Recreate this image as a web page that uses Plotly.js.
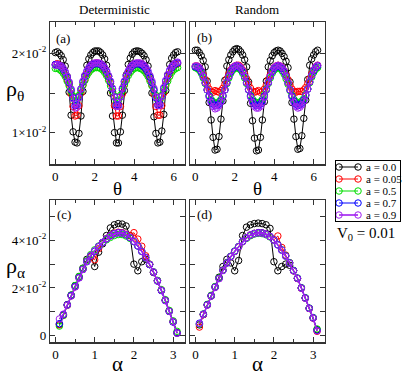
<!DOCTYPE html>
<html>
<head>
<meta charset="utf-8">
<script src="https://cdn.plot.ly/plotly-3.0.1.min.js"></script>
<style>
  html, body { margin: 0; padding: 0; background: #fff; }
  #plot { width: 415px; height: 376px; }
  #plot svg text { font-family: "Liberation Serif", "DejaVu Serif", serif !important; }
</style>
</head>
<body>
<div id="plot"></div>
<script>
// theta grid (panels a, b) and alpha grid (panels c, d)
const theta = [0.0,0.1,0.2,0.3,0.4,0.5,0.6,0.7,0.8,0.9,1.0,1.1,1.2,1.3,1.4,1.5,1.6,1.7,1.8,1.9,2.0,
  2.1,2.2,2.3,2.4,2.5,2.6,2.7,2.8,2.9,3.0,3.1,3.2,3.3,3.4,3.5,3.6,3.7,3.8,3.9,4.0,4.1,
  4.2,4.3,4.4,4.5,4.6,4.7,4.8,4.9,5.0,5.1,5.2,5.3,5.4,5.5,5.6,5.7,5.8,5.9,6.0,6.1,6.2];
const alpha = [0.1,0.2,0.3,0.4,0.5,0.6,0.7,0.8,0.9,1.0,1.1,1.2,1.3,1.4,1.5,1.6,1.7,1.8,1.9,2.0,
  2.1,2.2,2.3,2.4,2.5,2.6,2.7,2.8,2.9,3.0,3.1];

const labels = ['a = 0.0', 'a = 0.05', 'a = 0.5', 'a = 0.7', 'a = 0.9'];

// (a) deterministic, rho_theta
const detTheta00 = [0.0201,
  0.0202,0.0200,0.0197,0.0192,0.0184,0.0171,0.0151,0.0122,0.0101,0.0088,
  0.0087,0.0099,0.0121,0.0152,0.0172,0.0185,0.0193,0.0198,0.0201,0.0203,
  0.0203,
  0.0203,0.0201,0.0198,0.0193,0.0185,0.0171,0.0150,0.0121,0.0100,0.0087,
  0.0087,0.0101,0.0122,0.0153,0.0173,0.0186,0.0194,0.0199,0.0202,0.0203,
  0.0203,
  0.0202,0.0200,0.0197,0.0192,0.0184,0.0170,0.0150,0.0120,0.0099,0.0087,
  0.0088,0.0102,0.0123,0.0153,0.0173,0.0186,0.0194,0.0198,0.0201,0.0202];
const detTheta005 = [0.0186,
  0.0187,0.0185,0.0182,0.0178,0.0173,0.0167,0.0161,0.0149,0.0133,0.0121,
  0.0122,0.0134,0.0150,0.0160,0.0167,0.0174,0.0179,0.0183,0.0186,0.0187,
  0.0188,
  0.0187,0.0186,0.0183,0.0179,0.0174,0.0168,0.0162,0.0151,0.0134,0.0121,
  0.0121,0.0133,0.0149,0.0161,0.0168,0.0175,0.0180,0.0184,0.0186,0.0187,
  0.0187,
  0.0187,0.0185,0.0182,0.0178,0.0173,0.0167,0.0160,0.0149,0.0133,0.0122,
  0.0122,0.0134,0.0150,0.0161,0.0168,0.0174,0.0179,0.0183,0.0186,0.0187];
const detTheta05 = [0.0181,
  0.0181,0.0180,0.0178,0.0175,0.0171,0.0165,0.0159,0.0152,0.0146,0.0140,
  0.0141,0.0147,0.0153,0.0160,0.0166,0.0172,0.0176,0.0179,0.0181,0.0182,
  0.0182,
  0.0182,0.0181,0.0179,0.0176,0.0172,0.0166,0.0159,0.0152,0.0146,0.0140,
  0.0141,0.0147,0.0153,0.0160,0.0166,0.0172,0.0176,0.0179,0.0181,0.0182,
  0.0182,
  0.0181,0.0180,0.0178,0.0175,0.0171,0.0165,0.0159,0.0153,0.0147,0.0141,
  0.0141,0.0147,0.0153,0.0159,0.0165,0.0171,0.0176,0.0179,0.0181,0.0182];
const detTheta07 = [0.0186,
  0.0186,0.0185,0.0183,0.0180,0.0176,0.0170,0.0163,0.0154,0.0144,0.0134,
  0.0135,0.0145,0.0155,0.0164,0.0171,0.0177,0.0181,0.0184,0.0186,0.0187,
  0.0187,
  0.0187,0.0186,0.0184,0.0181,0.0177,0.0171,0.0164,0.0155,0.0145,0.0135,
  0.0135,0.0145,0.0155,0.0164,0.0171,0.0177,0.0181,0.0184,0.0186,0.0187,
  0.0187,
  0.0186,0.0185,0.0183,0.0180,0.0176,0.0170,0.0163,0.0154,0.0144,0.0135,
  0.0136,0.0146,0.0156,0.0165,0.0172,0.0178,0.0182,0.0185,0.0187,0.0188];
const detTheta09 = [0.0185,
  0.0186,0.0185,0.0184,0.0181,0.0177,0.0171,0.0164,0.0155,0.0143,0.0131,
  0.0132,0.0144,0.0155,0.0165,0.0172,0.0178,0.0182,0.0185,0.0187,0.0188,
  0.0188,
  0.0188,0.0187,0.0185,0.0182,0.0178,0.0172,0.0165,0.0156,0.0145,0.0133,
  0.0133,0.0145,0.0156,0.0165,0.0172,0.0178,0.0182,0.0185,0.0187,0.0188,
  0.0188,
  0.0188,0.0187,0.0185,0.0182,0.0178,0.0172,0.0165,0.0156,0.0145,0.0134,
  0.0134,0.0146,0.0157,0.0166,0.0173,0.0179,0.0183,0.0186,0.0188,0.0189];

// (b) random, rho_theta
const rndTheta00 = [0.0204,
  0.0204,0.0201,0.0197,0.0191,0.0183,0.0165,0.0138,0.0116,0.0094,0.0078,
  0.0079,0.0095,0.0117,0.0140,0.0166,0.0184,0.0192,0.0198,0.0202,0.0205,
  0.0206,
  0.0205,0.0202,0.0198,0.0192,0.0183,0.0164,0.0137,0.0115,0.0093,0.0077,
  0.0078,0.0094,0.0116,0.0139,0.0165,0.0183,0.0191,0.0197,0.0201,0.0203,
  0.0204,
  0.0203,0.0200,0.0196,0.0190,0.0182,0.0164,0.0138,0.0117,0.0095,0.0079,
  0.0080,0.0096,0.0118,0.0141,0.0167,0.0185,0.0193,0.0198,0.0202,0.0204];
const rndTheta005 = [0.0184,
  0.0184,0.0182,0.0178,0.0173,0.0167,0.0160,0.0155,0.0152,0.0151,0.0153,
  0.0152,0.0151,0.0153,0.0156,0.0161,0.0168,0.0174,0.0179,0.0182,0.0184,
  0.0185,
  0.0185,0.0183,0.0179,0.0174,0.0168,0.0161,0.0156,0.0152,0.0151,0.0152,
  0.0153,0.0151,0.0152,0.0155,0.0160,0.0167,0.0173,0.0178,0.0182,0.0184,
  0.0185,
  0.0184,0.0182,0.0178,0.0173,0.0167,0.0160,0.0155,0.0152,0.0151,0.0152,
  0.0152,0.0152,0.0154,0.0157,0.0162,0.0168,0.0174,0.0179,0.0183,0.0185];
const rndTheta05 = [0.0182,
  0.0181,0.0179,0.0175,0.0169,0.0162,0.0154,0.0147,0.0142,0.0139,0.0137,
  0.0137,0.0139,0.0142,0.0147,0.0154,0.0162,0.0169,0.0175,0.0179,0.0181,
  0.0182,
  0.0181,0.0179,0.0175,0.0169,0.0162,0.0154,0.0147,0.0142,0.0139,0.0138,
  0.0137,0.0139,0.0142,0.0148,0.0155,0.0162,0.0169,0.0175,0.0179,0.0181,
  0.0182,
  0.0181,0.0178,0.0174,0.0168,0.0161,0.0153,0.0147,0.0142,0.0139,0.0137,
  0.0138,0.0140,0.0143,0.0148,0.0155,0.0163,0.0170,0.0176,0.0180,0.0182];
const rndTheta07 = [0.0183,
  0.0183,0.0181,0.0177,0.0171,0.0163,0.0154,0.0146,0.0140,0.0136,0.0134,
  0.0134,0.0136,0.0140,0.0146,0.0154,0.0163,0.0171,0.0177,0.0181,0.0183,
  0.0184,
  0.0183,0.0181,0.0177,0.0171,0.0163,0.0154,0.0146,0.0140,0.0136,0.0134,
  0.0134,0.0136,0.0140,0.0146,0.0154,0.0163,0.0171,0.0177,0.0181,0.0183,
  0.0184,
  0.0183,0.0181,0.0177,0.0171,0.0163,0.0154,0.0146,0.0140,0.0136,0.0134,
  0.0135,0.0137,0.0141,0.0147,0.0155,0.0164,0.0172,0.0178,0.0182,0.0184];
const rndTheta09 = [0.0184,
  0.0184,0.0182,0.0178,0.0171,0.0163,0.0154,0.0145,0.0138,0.0133,0.0130,
  0.0131,0.0134,0.0139,0.0146,0.0154,0.0163,0.0171,0.0178,0.0182,0.0184,
  0.0185,
  0.0184,0.0182,0.0178,0.0171,0.0163,0.0154,0.0145,0.0138,0.0133,0.0131,
  0.0131,0.0133,0.0138,0.0145,0.0154,0.0163,0.0171,0.0178,0.0182,0.0184,
  0.0185,
  0.0184,0.0182,0.0178,0.0171,0.0163,0.0154,0.0145,0.0138,0.0133,0.0131,
  0.0132,0.0135,0.0140,0.0147,0.0155,0.0164,0.0172,0.0179,0.0183,0.0185];

// (c) deterministic, rho_alpha
const detAlpha00 = [0.0048,0.0088,0.0130,0.0170,0.0210,0.0248,0.0283,0.0320,0.0335,0.0290,0.0350,
  0.0385,0.0420,0.0452,0.0465,0.0470,0.0468,0.0460,0.0420,0.0300,0.0272,0.0310,0.0320,0.0298,
  0.0265,0.0230,0.0190,0.0148,0.0102,0.0058,0.0010];
const detAlpha005 = [0.0045,0.0085,0.0127,0.0167,0.0205,0.0243,0.0278,0.0312,0.0330,0.0318,0.0365,
  0.0390,0.0407,0.0420,0.0430,0.0434,0.0432,0.0425,0.0420,0.0432,0.0405,0.0375,0.0335,0.0300,
  0.0266,0.0230,0.0191,0.0149,0.0104,0.0059,0.0013];
const detAlpha05 = [0.0040,0.0085,0.0128,0.0170,0.0210,0.0248,0.0282,0.0314,0.0340,0.0360,0.0376,
  0.0390,0.0402,0.0412,0.0420,0.0424,0.0424,0.0418,0.0408,0.0394,0.0376,0.0354,0.0328,0.0300,
  0.0268,0.0232,0.0193,0.0151,0.0106,0.0062,0.0018];
const detAlpha07 = [0.0050,0.0088,0.0129,0.0168,0.0206,0.0243,0.0278,0.0310,0.0334,0.0354,0.0373,
  0.0391,0.0406,0.0419,0.0428,0.0432,0.0430,0.0423,0.0411,0.0395,0.0376,0.0353,0.0327,0.0298,
  0.0266,0.0229,0.0189,0.0147,0.0102,0.0057,0.0012];
const detAlpha09 = [0.0070,0.0090,0.0128,0.0166,0.0204,0.0242,0.0278,0.0311,0.0336,0.0356,0.0374,
  0.0391,0.0406,0.0418,0.0427,0.0431,0.0430,0.0424,0.0412,0.0396,0.0377,0.0354,0.0328,0.0299,
  0.0267,0.0230,0.0190,0.0147,0.0102,0.0058,0.0010];

// (d) random, rho_alpha
const rndAlpha00 = [0.0045,0.0088,0.0130,0.0168,0.0205,0.0245,0.0290,0.0320,0.0305,0.0272,0.0315,
  0.0420,0.0455,0.0465,0.0470,0.0472,0.0470,0.0465,0.0450,0.0310,0.0272,0.0290,0.0300,0.0295,
  0.0272,0.0240,0.0200,0.0158,0.0114,0.0074,0.0025];
const rndAlpha005 = [0.0036,0.0088,0.0128,0.0166,0.0203,0.0240,0.0275,0.0306,0.0332,0.0353,0.0372,
  0.0394,0.0410,0.0422,0.0429,0.0432,0.0431,0.0426,0.0416,0.0402,0.0418,0.0370,0.0338,0.0306,
  0.0272,0.0240,0.0199,0.0157,0.0114,0.0074,0.0018];
const rndAlpha05 = [0.0048,0.0091,0.0131,0.0169,0.0206,0.0242,0.0275,0.0306,0.0333,0.0355,0.0374,
  0.0394,0.0408,0.0419,0.0426,0.0429,0.0428,0.0423,0.0414,0.0400,0.0381,0.0360,0.0335,0.0306,
  0.0274,0.0242,0.0201,0.0159,0.0116,0.0076,0.0028];
const rndAlpha07 = [0.0052,0.0090,0.0129,0.0166,0.0203,0.0240,0.0274,0.0305,0.0332,0.0354,0.0373,
  0.0395,0.0410,0.0422,0.0429,0.0432,0.0431,0.0426,0.0416,0.0401,0.0381,0.0359,0.0334,0.0305,
  0.0273,0.0241,0.0200,0.0158,0.0115,0.0075,0.0022];
const rndAlpha09 = [0.0050,0.0089,0.0128,0.0166,0.0203,0.0239,0.0273,0.0304,0.0331,0.0353,0.0373,
  0.0394,0.0410,0.0422,0.0428,0.0431,0.0430,0.0425,0.0415,0.0400,0.0380,0.0358,0.0333,0.0304,
  0.0272,0.0240,0.0199,0.0157,0.0114,0.0074,0.0020];

const colors = ['#000000', '#ff0000', '#00dd00', '#0000ff', '#a020f0'];
const lineWidths = [1, 1, 1, 1, 1.6];
const FONT = '"Liberation Serif", "DejaVu Serif", serif';
const FRAME = '#333';
const W = 415, H = 376;

const panels = [
  { xs: theta, ys: [detTheta00, detTheta005, detTheta05, detTheta07, detTheta09], ax: '' },
  { xs: theta, ys: [rndTheta00, rndTheta005, rndTheta05, rndTheta07, rndTheta09], ax: '2' },
  { xs: alpha, ys: [detAlpha00, detAlpha005, detAlpha05, detAlpha07, detAlpha09], ax: '3' },
  { xs: alpha, ys: [rndAlpha00, rndAlpha005, rndAlpha05, rndAlpha07, rndAlpha09], ax: '4' }
];

function markerStyle(c) {
  return { symbol: 'circle-open', size: 6.5, color: c, line: { width: 1, color: c } };
}

const traces = [];
panels.forEach(p => {
  p.ys.forEach((y, si) => {
    traces.push({
      x: p.xs, y: y,
      xaxis: 'x' + p.ax, yaxis: 'y' + p.ax,
      type: 'scatter', mode: 'lines+markers',
      name: labels[si], showlegend: false,
      line: { color: colors[si], width: lineWidths[si] },
      marker: markerStyle(colors[si]),
      hoverinfo: 'skip'
    });
  });
});

// key: one row per series in its own small box (line sample with a circle at both ends)
labels.forEach((lab, si) => {
  traces.push({
    x: [0, 1], y: [lab, lab],
    xaxis: 'x5', yaxis: 'y5',
    type: 'scatter', mode: 'lines+markers', showlegend: false,
    line: { color: colors[si], width: lineWidths[si] },
    marker: markerStyle(colors[si]),
    hoverinfo: 'skip'
  });
});

// pixel helpers for domains / annotations
const px = v => v / W;
const py = v => 1 - v / H;

function xAxis(d0, d1, range, dtick, minor, anchor) {
  return {
    domain: [px(d0), px(d1)], range: range, anchor: anchor,
    tickmode: 'linear', tick0: 0, dtick: dtick,
    ticks: 'inside', ticklen: 5, tickwidth: 1, tickcolor: FRAME,
    minor: { dtick: minor, ticks: 'inside', ticklen: 3, tickwidth: 1, tickcolor: FRAME, showgrid: false },
    mirror: 'allticks', showline: true, linecolor: FRAME, linewidth: 1.2,
    showgrid: false, zeroline: false,
    tickfont: { family: FONT, size: 13, color: '#000' }
  };
}
function yAxis(d0, d1, range, vals, text, showLabels, anchor) {
  return {
    domain: [py(d1), py(d0)], range: range, anchor: anchor,
    tickmode: 'array', tickvals: vals, ticktext: text, showticklabels: showLabels,
    ticks: 'inside', ticklen: 5, tickwidth: 1, tickcolor: FRAME,
    mirror: 'allticks', showline: true, linecolor: FRAME, linewidth: 1.2,
    showgrid: false, zeroline: false,
    tickfont: { family: FONT, size: 13, color: '#000' }
  };
}

const thetaTicks = [0.01, 0.015, 0.02];
const thetaText = ['1×10<sup>-2</sup>', '', '2×10<sup>-2</sup>'];
const alphaTicks = [0, 0.01, 0.02, 0.03, 0.04, 0.05];
const alphaText = ['0', '', '2×10<sup>-2</sup>', '', '4×10<sup>-2</sup>', ''];

const thetaRange = [-0.27, 6.55];
const alphaRange = [-0.14, 3.29];
const rhoThetaRange = [0.0060, 0.0240];
const rhoAlphaRange = [-0.0028, 0.0569];

function ann(text, x, y, size, xanchor) {
  return {
    text: text, x: px(x), y: py(y), xref: 'paper', yref: 'paper',
    xanchor: xanchor || 'center', yanchor: 'middle', showarrow: false,
    font: { family: FONT, size: size, color: '#000' }
  };
}

const keyAnnotations = labels.map(lab => ({
  text: lab, x: 1.32, y: lab, xref: 'x5', yref: 'y5',
  xanchor: 'left', yanchor: 'middle', showarrow: false,
  font: { family: FONT, size: 11, color: '#000' }
}));

const layout = {
  width: W, height: H,
  margin: { l: 0, r: 0, t: 0, b: 0 },
  paper_bgcolor: '#fff', plot_bgcolor: '#fff',
  font: { family: FONT, color: '#000' },
  showlegend: false,
  xaxis:  xAxis(50, 184.5, thetaRange, 2, 1, 'y'),
  yaxis:  yAxis(21.7, 164.3, rhoThetaRange, thetaTicks, thetaText, true, 'x'),
  xaxis2: xAxis(190, 324.5, thetaRange, 2, 1, 'y2'),
  yaxis2: yAxis(21.7, 164.3, rhoThetaRange, thetaTicks, thetaText, false, 'x2'),
  xaxis3: xAxis(50, 184.5, alphaRange, 1, 0.5, 'y3'),
  yaxis3: yAxis(200, 342.3, rhoAlphaRange, alphaTicks, alphaText, true, 'x3'),
  xaxis4: xAxis(190, 324.5, alphaRange, 1, 0.5, 'y4'),
  yaxis4: yAxis(200, 342.3, rhoAlphaRange, alphaTicks, alphaText, false, 'x4'),
  // key box
  xaxis5: {
    domain: [px(336), px(400)], range: [-0.16, 3.21], anchor: 'y5',
    showline: true, mirror: true, linecolor: '#000', linewidth: 1,
    showgrid: false, zeroline: false, showticklabels: false, ticks: ''
  },
  yaxis5: {
    domain: [py(221), py(161)], range: [4.5, -0.5], anchor: 'x5', type: 'category',
    showline: true, mirror: true, linecolor: '#000', linewidth: 1,
    showgrid: false, zeroline: false, showticklabels: false, ticks: ''
  },
  annotations: [
    ann('Deterministic', 114, 10, 13),
    ann('Random', 257, 10, 13),
    ann('(a)', 54, 38, 13, 'left'),
    ann('(b)', 195, 37, 13, 'left'),
    ann('(c)', 55, 214, 13, 'left'),
    ann('(d)', 195, 214, 13, 'left'),
    ann('θ', 117, 188, 19),
    ann('θ', 257, 188, 19),
    ann('α', 117, 364, 21),
    ann('α', 257, 364, 21),
    ann('ρ<sub>θ</sub>', 15, 90, 22),
    ann('ρ<sub>α</sub>', 15, 267, 22),
    ann('V<sub>0</sub> = 0.01', 366, 234, 15)
  ].concat(keyAnnotations)
};

Plotly.newPlot('plot', traces, layout, { staticPlot: true, displayModeBar: false });
</script>
</body>
</html>
